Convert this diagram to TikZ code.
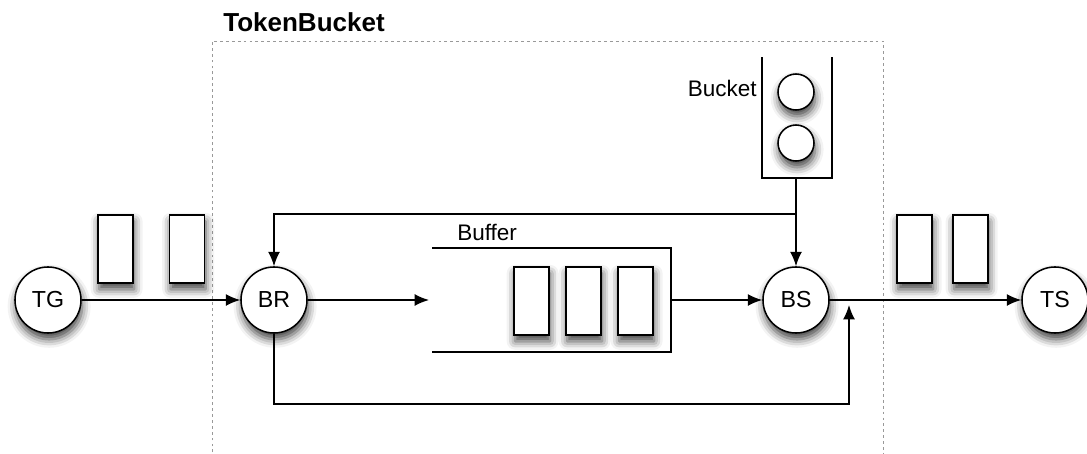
\documentclass[tikz,border=0pt]{standalone}
\usepackage{fontspec}
\setmainfont{Liberation Sans}
\usetikzlibrary{arrows.meta,shadows.blur}

\tikzset{
  >={Latex[length=0.36cm,width=0.3cm]},
  conn/.style={line width=1.1pt},
  shad/.style={blur shadow={shadow xshift=0.8pt,shadow yshift=-4.5pt,
      shadow blur radius=6pt,shadow opacity=75}},
  proc/.style={circle,draw,line width=1.1pt,fill=white,minimum size=1.65cm,
      inner sep=0pt,font=\fontsize{16.5}{18}\selectfont,shad},
  pkt/.style={draw,line width=1.1pt,fill=white,minimum width=0.875cm,
      minimum height=1.7cm,inner sep=0pt,shad},
  tok/.style={circle,draw,line width=1.1pt,fill=white,minimum size=0.9cm,
      inner sep=0pt,shad},
  lbl/.style={font=\fontsize{16}{18}\selectfont,inner sep=0pt}
}

\begin{document}
\begin{tikzpicture}[x=0.025cm,y=-0.025cm]
  \useasboundingbox (0,0) rectangle (1087,454);
  % token bucket frame
  \draw [gray!80,line width=0.7pt,dash pattern=on 2pt off 2.2pt]
    (212,470) |- (883,41) -- (883,470);
  \node [anchor=base west,inner sep=0pt,font=\bfseries\fontsize{18.5}{20}\selectfont]
    (title) at (223,31) {TokenBucket};

  \node [proc] (tg) at (48,300) {TG};
  \node [proc] (br) at (274,300) {BR};
  \node [proc] (bs) at (796,300) {BS};
  \node [proc] (ts) at (1055,300) {TS};

  \node [pkt] (in1) at (115.5,249) {};
  \node [pkt] (in2) at (187,249) {};
  \node [pkt] (out1) at (914.5,249) {};
  \node [pkt] (out2) at (970.5,249) {};

  % bucket
  \draw [conn] (762,57) |- (832,178) -- (832,57);
  \node [tok] (t1) at (796,92) {};
  \node [tok] (t2) at (796,143) {};
  \node [lbl,anchor=east] (bucket) at (757,88) {Bucket};
  \coordinate (bk) at (796,178);
  \coordinate (fork) at (796,214);

  % buffer
  \draw [conn] (432,248) -| (671,352) -- (432,352);
  \node [lbl,anchor=base west] (buffer) at (457,240) {Buffer};
  \node [pkt] (b1) at (531.5,301) {};
  \node [pkt] (b2) at (583.5,301) {};
  \node [pkt] (b3) at (635.5,301) {};
  \coordinate (bfin) at (429,300);
  \coordinate (bfout) at (671,300);

  \coordinate (back) at (849,404);
  \coordinate (up) at (849,305);

  \draw [conn,->] (tg) -- (br);
  \draw [conn,->] (br) -- (bfin);
  \draw [conn,->] (bfout) -- (bs);
  \draw [conn,->] (bs) -- (ts);
  \draw [conn,->] (bk) -- (bs);
  \draw [conn,->] (fork) -| (br);
  \draw [conn,->] (br) |- (back) -- (up);
\end{tikzpicture}
\end{document}
